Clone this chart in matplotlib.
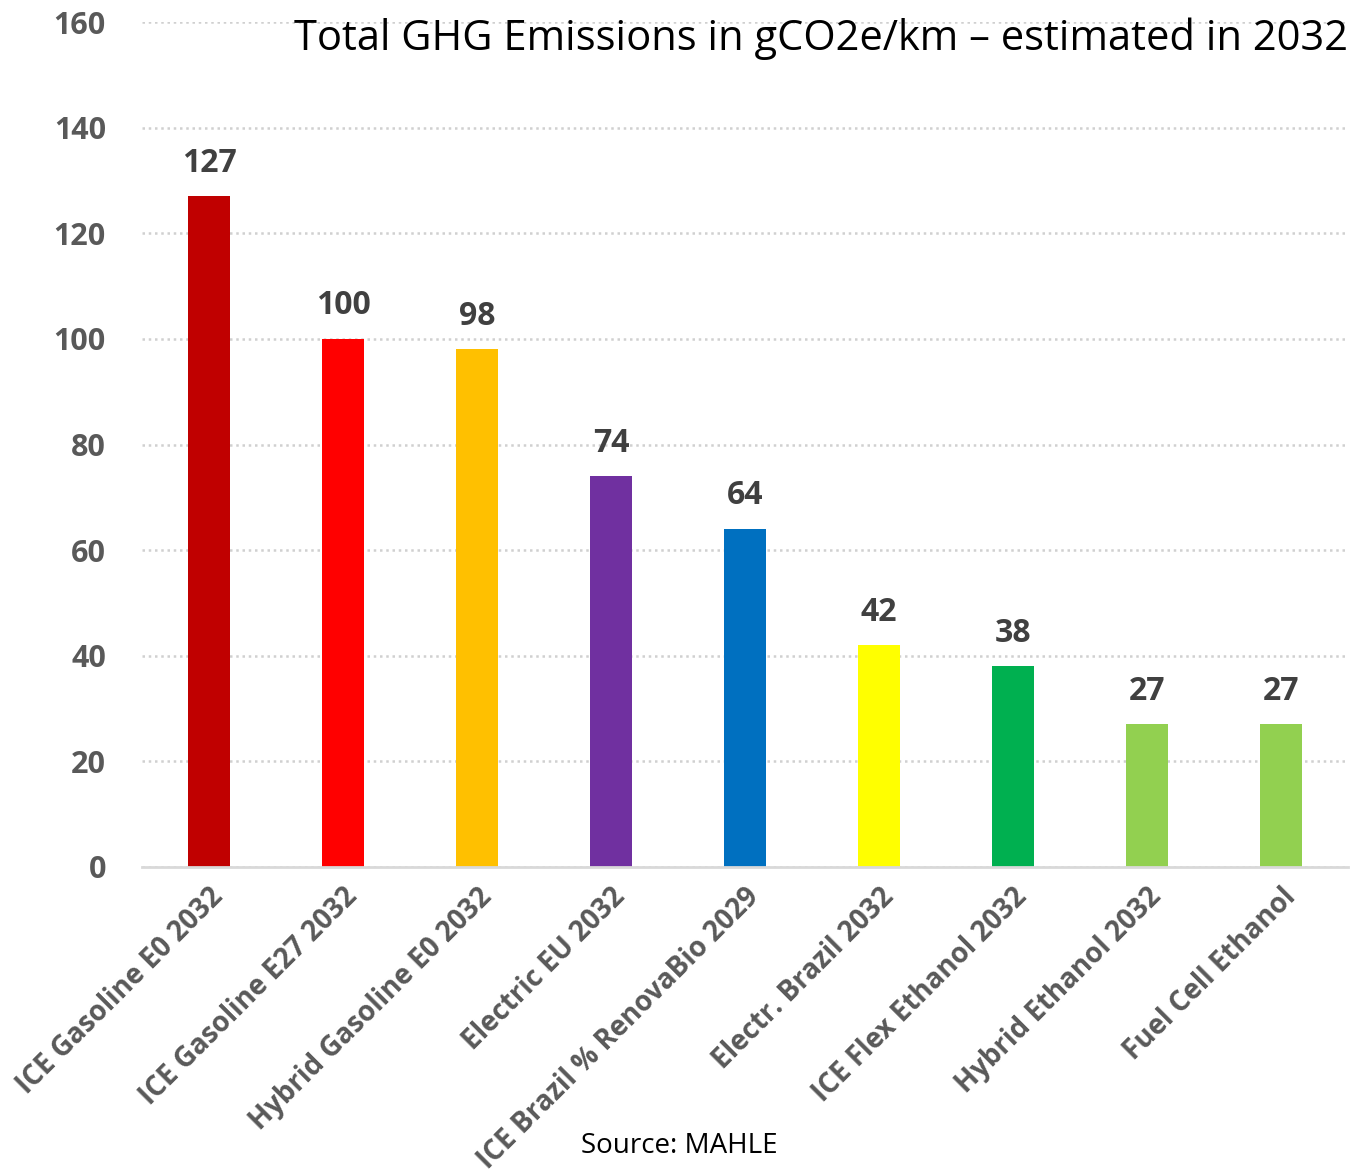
import matplotlib
matplotlib.use("Agg")
import matplotlib.pyplot as plt

categories = ["ICE Gasoline E0 2032", "ICE Gasoline E27 2032", "Hybrid Gasoline E0 2032",
              "Electric EU 2032", "ICE Brazil % RenovaBio 2029", "Electr. Brazil 2032",
              "ICE Flex Ethanol 2032", "Hybrid Ethanol 2032", "Fuel Cell Ethanol"]
values = [127, 100, 98, 74, 64, 42, 38, 27, 27]
colors = ["#C00000", "#FF0000", "#FFC000", "#7030A0", "#0070C0", "#FFFF00",
          "#00B050", "#92D050", "#92D050"]
yticks = [0, 20, 40, 60, 80, 100, 120, 140, 160]

plt.rcParams['font.family'] = ['Open Sans', 'DejaVu Sans']

fig = plt.figure(figsize=(13.55, 11.69), dpi=100)
ax = fig.add_axes([142/1355, 1 - 867/1169, (1348-142)/1355, (867-22)/1169])

x = range(len(categories))
bars = ax.bar(x, values, width=0.31, color=colors, zorder=3)
for xi, v in zip(x, values):
    ax.annotate(str(v), (xi, v), xytext=(0, 12), textcoords='offset points',
                ha='center', va='bottom', fontsize=23, fontweight='bold', color='#404040')

ax.set_xlim(-0.5, len(categories) - 0.5)
ax.set_ylim(0, 160)
ax.set_yticks(yticks)
ax.set_yticklabels([str(t) for t in yticks], fontsize=22, fontweight='bold', color='#595959')
ax.set_xticks(list(x))
ax.set_xticklabels(categories, rotation=45, ha='right', rotation_mode='anchor',
                   fontsize=20, fontweight='bold', color='#595959')
ax.tick_params(axis='both', length=0)
ax.tick_params(axis='y', pad=26)
ax.tick_params(axis='x', pad=11)

ax.grid(axis='y', linestyle=(0, (1, 1.5)), color='#D0D0D0', linewidth=1.8, zorder=0)
for s in ['top', 'right', 'left']:
    ax.spines[s].set_visible(False)
ax.spines['bottom'].set_color('#D9D9D9')
ax.spines['bottom'].set_linewidth(2)
ax.spines['bottom'].set_zorder(4)

fig.text(1348/1355, 1 - 50/1169, "Total GHG Emissions in gCO2e/km \u2013 estimated in 2032",
         ha='right', va='baseline', fontsize=30, color='black')
fig.text(679/1355, 1 - 1146/1169, "Source: MAHLE", ha='center', va='center',
         fontsize=20, color='black')

fig.savefig("out.png", dpi=100)
